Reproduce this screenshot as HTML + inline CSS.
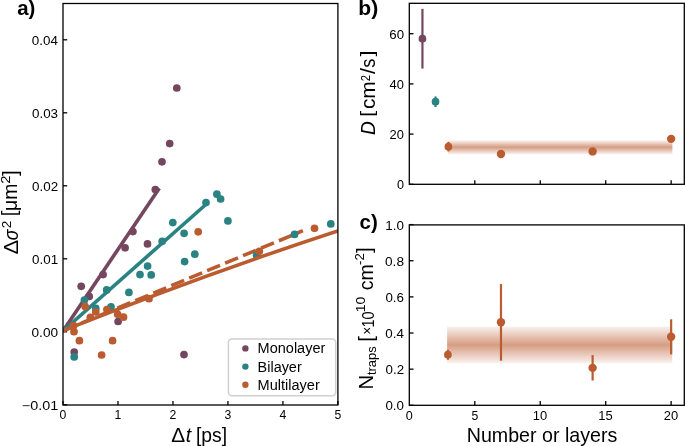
<!DOCTYPE html>
<html><head><meta charset="utf-8"><style>
html,body{margin:0;padding:0;background:#fff;width:685px;height:446px;overflow:hidden}
svg text{font-family:"Liberation Sans", sans-serif;fill:#000}
</style></head><body>
<svg width="685" height="446" viewBox="0 0 685 446" style="position:absolute;left:0;top:0;will-change:transform">
<defs>
<linearGradient id="gb" x1="0" y1="0" x2="0" y2="1"><stop offset="0" stop-color="#bb5b30" stop-opacity="0.08"/><stop offset="0.5" stop-color="#bb5b30" stop-opacity="0.6"/><stop offset="1" stop-color="#bb5b30" stop-opacity="0.08"/></linearGradient>
<clipPath id="ca"><rect x="63" y="3.5" width="274.9" height="401.3"/></clipPath>
</defs>
<line x1="63.00" y1="405.0" x2="63.00" y2="400.9" stroke="#000" stroke-width="1.3"/>
<text x="59.60" y="418.50" font-size="12.2" textLength="6.78" lengthAdjust="spacingAndGlyphs">0</text>
<line x1="117.98" y1="405.0" x2="117.98" y2="400.9" stroke="#000" stroke-width="1.3"/>
<text x="114.43" y="418.50" font-size="12.2" textLength="6.78" lengthAdjust="spacingAndGlyphs">1</text>
<line x1="172.96" y1="405.0" x2="172.96" y2="400.9" stroke="#000" stroke-width="1.3"/>
<text x="169.56" y="418.50" font-size="12.2" textLength="6.78" lengthAdjust="spacingAndGlyphs">2</text>
<line x1="227.94" y1="405.0" x2="227.94" y2="400.9" stroke="#000" stroke-width="1.3"/>
<text x="224.54" y="418.50" font-size="12.2" textLength="6.78" lengthAdjust="spacingAndGlyphs">3</text>
<line x1="282.92" y1="405.0" x2="282.92" y2="400.9" stroke="#000" stroke-width="1.3"/>
<text x="279.57" y="418.50" font-size="12.2" textLength="6.78" lengthAdjust="spacingAndGlyphs">4</text>
<line x1="337.90" y1="405.0" x2="337.90" y2="400.9" stroke="#000" stroke-width="1.3"/>
<text x="334.50" y="418.50" font-size="12.2" textLength="6.78" lengthAdjust="spacingAndGlyphs">5</text>
<line x1="63.0" y1="404.80" x2="67.20" y2="404.80" stroke="#000" stroke-width="1.3"/>
<text x="21.89" y="409.65" font-size="12.2" textLength="36.38" lengthAdjust="spacingAndGlyphs">−0.01</text>
<line x1="63.0" y1="331.80" x2="67.20" y2="331.80" stroke="#000" stroke-width="1.3"/>
<text x="31.54" y="336.65" font-size="12.2" textLength="26.55" lengthAdjust="spacingAndGlyphs">0.00</text>
<line x1="63.0" y1="258.80" x2="67.20" y2="258.80" stroke="#000" stroke-width="1.3"/>
<text x="32.10" y="263.65" font-size="12.2" textLength="26.10" lengthAdjust="spacingAndGlyphs">0.01</text>
<line x1="63.0" y1="185.80" x2="67.20" y2="185.80" stroke="#000" stroke-width="1.3"/>
<text x="32.10" y="190.65" font-size="12.2" textLength="26.10" lengthAdjust="spacingAndGlyphs">0.02</text>
<line x1="63.0" y1="112.80" x2="67.20" y2="112.80" stroke="#000" stroke-width="1.3"/>
<text x="32.00" y="117.65" font-size="12.2" textLength="26.09" lengthAdjust="spacingAndGlyphs">0.03</text>
<line x1="63.0" y1="39.80" x2="67.20" y2="39.80" stroke="#000" stroke-width="1.3"/>
<text x="31.85" y="44.65" font-size="12.2" textLength="26.13" lengthAdjust="spacingAndGlyphs">0.04</text>
<g clip-path="url(#ca)">
<line x1="63.0" y1="330.9" x2="159.3" y2="188.2" stroke="#74475f" stroke-width="3.6"/>
<circle cx="176.8" cy="88.0" r="3.85" fill="#74475f"/>
<circle cx="169.7" cy="143.6" r="3.85" fill="#74475f"/>
<circle cx="162.0" cy="161.8" r="3.85" fill="#74475f"/>
<circle cx="155.3" cy="189.6" r="3.85" fill="#74475f"/>
<circle cx="132.9" cy="231.6" r="3.85" fill="#74475f"/>
<circle cx="147.5" cy="243.9" r="3.85" fill="#74475f"/>
<circle cx="125.1" cy="247.8" r="3.85" fill="#74475f"/>
<circle cx="103.1" cy="274.6" r="3.85" fill="#74475f"/>
<circle cx="81.2" cy="286.3" r="3.85" fill="#74475f"/>
<circle cx="89.2" cy="296.4" r="3.85" fill="#74475f"/>
<circle cx="118.1" cy="321.5" r="3.85" fill="#74475f"/>
<circle cx="74.2" cy="352.1" r="3.85" fill="#74475f"/>
<circle cx="184.0" cy="354.6" r="3.85" fill="#74475f"/>
<line x1="63.0" y1="330.9" x2="302.9" y2="230.7" stroke="#bb5b30" stroke-width="3.6" stroke-dasharray="14.0 5.45" stroke-dashoffset="-0.6"/>
<line x1="63.0" y1="330.9" x2="205.3" y2="205.0" stroke="#2b8282" stroke-width="3.6"/>
<circle cx="216.9" cy="194.2" r="3.85" fill="#2b8282"/>
<circle cx="220.6" cy="199.0" r="3.85" fill="#2b8282"/>
<circle cx="206.0" cy="202.6" r="3.85" fill="#2b8282"/>
<circle cx="227.9" cy="220.9" r="3.85" fill="#2b8282"/>
<circle cx="172.8" cy="222.6" r="3.85" fill="#2b8282"/>
<circle cx="184.1" cy="233.3" r="3.85" fill="#2b8282"/>
<circle cx="162.2" cy="241.3" r="3.85" fill="#2b8282"/>
<circle cx="194.8" cy="254.2" r="3.85" fill="#2b8282"/>
<circle cx="184.6" cy="261.6" r="3.85" fill="#2b8282"/>
<circle cx="147.6" cy="266.1" r="3.85" fill="#2b8282"/>
<circle cx="140.0" cy="274.6" r="3.85" fill="#2b8282"/>
<circle cx="151.2" cy="274.9" r="3.85" fill="#2b8282"/>
<circle cx="106.7" cy="289.9" r="3.85" fill="#2b8282"/>
<circle cx="128.9" cy="292.4" r="3.85" fill="#2b8282"/>
<circle cx="84.4" cy="300.0" r="3.85" fill="#2b8282"/>
<circle cx="95.8" cy="308.4" r="3.85" fill="#2b8282"/>
<circle cx="111.0" cy="306.8" r="3.85" fill="#2b8282"/>
<circle cx="74.2" cy="356.9" r="3.85" fill="#2b8282"/>
<circle cx="256.6" cy="255.6" r="3.85" fill="#2b8282"/>
<circle cx="294.5" cy="234.4" r="3.85" fill="#2b8282"/>
<circle cx="330.8" cy="223.9" r="3.85" fill="#2b8282"/>
<path d="M63.0 330.70 Q202.00 275.21 341.00 229.85" fill="none" stroke="#bb5b30" stroke-width="3.6"/>
<circle cx="198.2" cy="231.8" r="3.85" fill="#bb5b30"/>
<circle cx="314.5" cy="228.3" r="3.85" fill="#bb5b30"/>
<circle cx="259.3" cy="251.3" r="3.85" fill="#bb5b30"/>
<circle cx="149.0" cy="298.7" r="3.85" fill="#bb5b30"/>
<circle cx="85.1" cy="306.4" r="3.85" fill="#bb5b30"/>
<circle cx="95.8" cy="312.0" r="3.85" fill="#bb5b30"/>
<circle cx="106.9" cy="309.6" r="3.85" fill="#bb5b30"/>
<circle cx="90.3" cy="317.3" r="3.85" fill="#bb5b30"/>
<circle cx="117.7" cy="314.3" r="3.85" fill="#bb5b30"/>
<circle cx="123.5" cy="317.2" r="3.85" fill="#bb5b30"/>
<circle cx="73.6" cy="325.5" r="3.85" fill="#bb5b30"/>
<circle cx="74.0" cy="331.7" r="3.85" fill="#bb5b30"/>
<circle cx="79.4" cy="340.7" r="3.85" fill="#bb5b30"/>
<circle cx="112.6" cy="340.7" r="3.85" fill="#bb5b30"/>
<circle cx="101.6" cy="355.0" r="3.85" fill="#bb5b30"/>
</g>
<rect x="63.0" y="3.5" width="274.90" height="401.50" fill="none" stroke="#000" stroke-width="1.3"/>
<rect x="228.4" y="339.1" width="107.3" height="56.7" rx="3.5" ry="3.5" fill="#ffffff" fill-opacity="0.8" stroke="#d0d0d0" stroke-width="1.5"/>
<circle cx="245.4" cy="348.40" r="3.2" fill="#74475f"/>
<text x="257.62" y="353.30" font-size="14.7" textLength="67.71" lengthAdjust="spacingAndGlyphs">Monolayer</text>
<circle cx="245.4" cy="366.60" r="3.2" fill="#2b8282"/>
<text x="257.62" y="371.50" font-size="14.7" textLength="44.10" lengthAdjust="spacingAndGlyphs">Bilayer</text>
<circle cx="245.4" cy="384.80" r="3.2" fill="#bb5b30"/>
<text x="257.61" y="389.70" font-size="14.7" textLength="62.18" lengthAdjust="spacingAndGlyphs">Multilayer</text>
<text x="171.16" y="441.60" font-size="19.5" textLength="13.91" lengthAdjust="spacingAndGlyphs">Δ</text>
<text x="185.80" y="441.60" font-size="19.5" font-style="italic" textLength="5.42" lengthAdjust="spacingAndGlyphs">t</text>
<text x="195.91" y="441.70" font-size="19.5" textLength="31.10" lengthAdjust="spacingAndGlyphs">[ps]</text>
<text transform="rotate(-90)" x="-254.48" y="18.20" font-size="19.5" textLength="14.79" lengthAdjust="spacingAndGlyphs">Δ</text>
<text transform="rotate(-90)" x="-240.25" y="18.20" font-size="19.5" font-style="italic" textLength="10.76" lengthAdjust="spacingAndGlyphs">σ</text>
<text transform="rotate(-90)" x="-228.30" y="11.20" font-size="13.5" textLength="7.51" lengthAdjust="spacingAndGlyphs">2</text>
<text transform="rotate(-90)" x="-216.34" y="16.10" font-size="19.5" textLength="5.56" lengthAdjust="spacingAndGlyphs">[</text>
<text transform="rotate(-90)" x="-210.89" y="17.00" font-size="19.5" textLength="27.26" lengthAdjust="spacingAndGlyphs">μm</text>
<text transform="rotate(-90)" x="-183.67" y="10.20" font-size="13.5" textLength="8.25" lengthAdjust="spacingAndGlyphs">2</text>
<text transform="rotate(-90)" x="-176.11" y="16.50" font-size="19.5" textLength="5.69" lengthAdjust="spacingAndGlyphs">]</text>
<text x="17.29" y="14.90" font-size="20" font-weight="bold" textLength="18.11" lengthAdjust="spacingAndGlyphs">a)</text>
<rect x="447.9" y="140.3" width="224.50" height="13.9" fill="url(#gb)"/>
<line x1="422.44" y1="68.59" x2="422.44" y2="8.85" stroke="#74475f" stroke-width="2.2"/>
<circle cx="422.44" cy="38.72" r="3.85" fill="#74475f"/>
<line x1="435.53" y1="106.99" x2="435.53" y2="96.45" stroke="#2b8282" stroke-width="2.2"/>
<circle cx="435.53" cy="101.72" r="3.85" fill="#2b8282"/>
<line x1="448.40" y1="151.42" x2="448.40" y2="141.88" stroke="#bb5b30" stroke-width="2.2"/>
<circle cx="448.40" cy="146.65" r="3.85" fill="#bb5b30"/>
<circle cx="500.98" cy="153.93" r="4.2" fill="#bb5b30"/>
<circle cx="592.61" cy="151.42" r="4.2" fill="#bb5b30"/>
<circle cx="671.15" cy="138.87" r="4.2" fill="#bb5b30"/>
<rect x="409.3" y="3.3" width="275.00" height="181.00" fill="none" stroke="#000" stroke-width="1.3"/>
<line x1="474.80" y1="184.3" x2="474.80" y2="180.3" stroke="#000" stroke-width="1.3"/>
<line x1="540.25" y1="184.3" x2="540.25" y2="180.3" stroke="#000" stroke-width="1.3"/>
<line x1="605.70" y1="184.3" x2="605.70" y2="180.3" stroke="#000" stroke-width="1.3"/>
<line x1="671.15" y1="184.3" x2="671.15" y2="180.3" stroke="#000" stroke-width="1.3"/>
<line x1="409.3" y1="184.30" x2="413.5" y2="184.30" stroke="#000" stroke-width="1.3"/>
<text x="396.98" y="189.15" font-size="12.2" textLength="7.02" lengthAdjust="spacingAndGlyphs">0</text>
<line x1="409.3" y1="134.10" x2="413.5" y2="134.10" stroke="#000" stroke-width="1.3"/>
<text x="389.61" y="138.95" font-size="12.2" textLength="14.38" lengthAdjust="spacingAndGlyphs">20</text>
<line x1="409.3" y1="83.90" x2="413.5" y2="83.90" stroke="#000" stroke-width="1.3"/>
<text x="389.63" y="88.75" font-size="12.2" textLength="14.36" lengthAdjust="spacingAndGlyphs">40</text>
<line x1="409.3" y1="33.70" x2="413.5" y2="33.70" stroke="#000" stroke-width="1.3"/>
<text x="389.25" y="38.55" font-size="12.2" textLength="14.76" lengthAdjust="spacingAndGlyphs">60</text>
<text transform="rotate(-90)" x="-134.97" y="375.00" font-size="20" font-style="italic" textLength="13.79" lengthAdjust="spacingAndGlyphs">D</text>
<text transform="rotate(-90)" x="-116.75" y="373.30" font-size="18" textLength="5.97" lengthAdjust="spacingAndGlyphs">[</text>
<text transform="rotate(-90)" x="-109.14" y="374.70" font-size="20" textLength="27.85" lengthAdjust="spacingAndGlyphs">cm</text>
<text transform="rotate(-90)" x="-81.14" y="369.50" font-size="12.5" textLength="6.22" lengthAdjust="spacingAndGlyphs">2</text>
<text transform="rotate(-90)" x="-73.90" y="375.00" font-size="20" textLength="6.05" lengthAdjust="spacingAndGlyphs">/</text>
<text transform="rotate(-90)" x="-67.85" y="375.00" font-size="20" textLength="9.20" lengthAdjust="spacingAndGlyphs">s</text>
<text transform="rotate(-90)" x="-56.62" y="373.30" font-size="18" textLength="5.97" lengthAdjust="spacingAndGlyphs">]</text>
<text x="358.33" y="14.60" font-size="20" font-weight="bold" textLength="19.90" lengthAdjust="spacingAndGlyphs">b)</text>
<rect x="447.1" y="326.5" width="225.10" height="36.8" fill="url(#gb)"/>
<line x1="447.90" y1="359.76" x2="447.90" y2="349.64" stroke="#bb5b30" stroke-width="2.2"/>
<circle cx="447.90" cy="354.70" r="3.85" fill="#bb5b30"/>
<line x1="500.98" y1="360.67" x2="500.98" y2="284.05" stroke="#bb5b30" stroke-width="2.2"/>
<circle cx="500.98" cy="322.18" r="4.2" fill="#bb5b30"/>
<line x1="592.61" y1="380.54" x2="592.61" y2="355.07" stroke="#bb5b30" stroke-width="2.2"/>
<circle cx="592.61" cy="367.90" r="4.2" fill="#bb5b30"/>
<line x1="671.15" y1="354.34" x2="671.15" y2="319.29" stroke="#bb5b30" stroke-width="2.2"/>
<circle cx="671.15" cy="336.81" r="4.2" fill="#bb5b30"/>
<rect x="409.3" y="224.9" width="275.00" height="180.40" fill="none" stroke="#000" stroke-width="1.3"/>
<text x="405.83" y="419.80" font-size="12.2" textLength="7.02" lengthAdjust="spacingAndGlyphs">0</text>
<line x1="474.80" y1="405.3" x2="474.80" y2="401.1" stroke="#000" stroke-width="1.3"/>
<text x="471.40" y="419.80" font-size="12.2" textLength="6.78" lengthAdjust="spacingAndGlyphs">5</text>
<line x1="540.25" y1="405.3" x2="540.25" y2="401.1" stroke="#000" stroke-width="1.3"/>
<text x="532.82" y="419.80" font-size="12.2" textLength="14.40" lengthAdjust="spacingAndGlyphs">10</text>
<line x1="605.70" y1="405.3" x2="605.70" y2="401.1" stroke="#000" stroke-width="1.3"/>
<text x="598.27" y="419.80" font-size="12.2" textLength="14.40" lengthAdjust="spacingAndGlyphs">15</text>
<line x1="671.15" y1="405.3" x2="671.15" y2="401.1" stroke="#000" stroke-width="1.3"/>
<text x="663.89" y="419.80" font-size="12.2" textLength="14.38" lengthAdjust="spacingAndGlyphs">20</text>
<line x1="409.3" y1="405.30" x2="413.5" y2="405.30" stroke="#000" stroke-width="1.3"/>
<text x="385.45" y="410.30" font-size="12.2" textLength="18.55" lengthAdjust="spacingAndGlyphs">0.0</text>
<line x1="409.3" y1="369.16" x2="413.5" y2="369.16" stroke="#000" stroke-width="1.3"/>
<text x="385.55" y="374.16" font-size="12.2" textLength="18.56" lengthAdjust="spacingAndGlyphs">0.2</text>
<line x1="409.3" y1="333.02" x2="413.5" y2="333.02" stroke="#000" stroke-width="1.3"/>
<text x="385.35" y="338.02" font-size="12.2" textLength="18.54" lengthAdjust="spacingAndGlyphs">0.4</text>
<line x1="409.3" y1="296.88" x2="413.5" y2="296.88" stroke="#000" stroke-width="1.3"/>
<text x="385.45" y="301.88" font-size="12.2" textLength="18.55" lengthAdjust="spacingAndGlyphs">0.6</text>
<line x1="409.3" y1="260.74" x2="413.5" y2="260.74" stroke="#000" stroke-width="1.3"/>
<text x="385.04" y="265.74" font-size="12.2" textLength="18.97" lengthAdjust="spacingAndGlyphs">0.8</text>
<line x1="409.3" y1="224.60" x2="413.5" y2="224.60" stroke="#000" stroke-width="1.3"/>
<text x="385.31" y="229.60" font-size="12.2" textLength="18.70" lengthAdjust="spacingAndGlyphs">1.0</text>
<text transform="rotate(-90)" x="-389.43" y="373.20" font-size="20" textLength="14.70" lengthAdjust="spacingAndGlyphs">N</text>
<text transform="rotate(-90)" x="-375.09" y="376.20" font-size="13.5" textLength="28.68" lengthAdjust="spacingAndGlyphs">traps</text>
<text transform="rotate(-90)" x="-341.67" y="372.70" font-size="19.5" textLength="5.69" lengthAdjust="spacingAndGlyphs">[</text>
<text transform="rotate(-90)" x="-334.67" y="371.70" font-size="14" textLength="7.91" lengthAdjust="spacingAndGlyphs">×</text>
<text transform="rotate(-90)" x="-327.55" y="373.70" font-size="16.5" textLength="16.13" lengthAdjust="spacingAndGlyphs">10</text>
<text transform="rotate(-90)" x="-312.24" y="364.70" font-size="13.5" textLength="15.68" lengthAdjust="spacingAndGlyphs">10</text>
<text transform="rotate(-90)" x="-290.30" y="373.20" font-size="19.5" textLength="25.89" lengthAdjust="spacingAndGlyphs">cm</text>
<text transform="rotate(-90)" x="-264.99" y="363.70" font-size="13.5" textLength="11.78" lengthAdjust="spacingAndGlyphs">-2</text>
<text transform="rotate(-90)" x="-252.91" y="371.20" font-size="19.5" textLength="5.69" lengthAdjust="spacingAndGlyphs">]</text>
<text x="466.76" y="441.80" font-size="20.3" textLength="150.50" lengthAdjust="spacingAndGlyphs">Number or layers</text>
<text x="359.58" y="229.00" font-size="20" font-weight="bold" textLength="18.23" lengthAdjust="spacingAndGlyphs">c)</text>
</svg>
</body></html>
